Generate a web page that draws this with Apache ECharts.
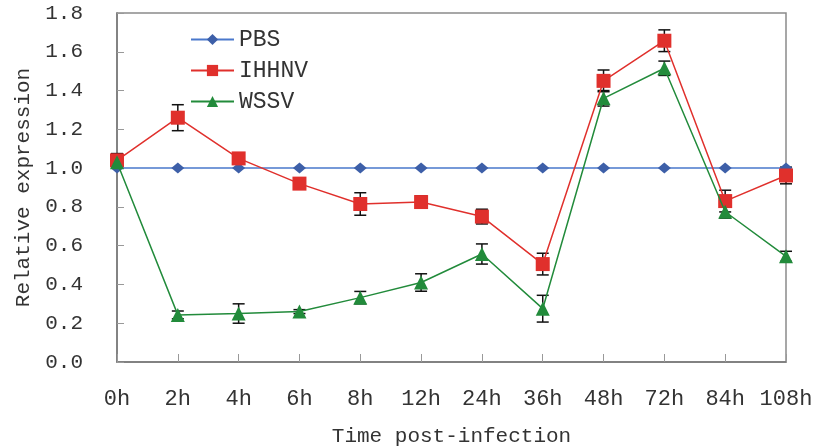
<!DOCTYPE html>
<html><head><meta charset="utf-8">
<script src="https://cdn.jsdelivr.net/npm/echarts@6/dist/echarts.min.js"></script>
<style>html,body{margin:0;padding:0;background:#fff}#c{width:817px;height:448px}</style>
</head><body><div id="c"></div>
<script>
const categories = ['0h','2h','4h','6h','8h','12h','24h','36h','48h','72h','84h','108h'];
const pbs   = [1.00,1.00,1.00,1.00,1.00,1.00,1.00,1.00,1.00,1.00,1.00,1.00];
const ihhnv = [1.04,1.26,1.05,0.92,0.815,0.825,0.75,0.505,1.45,1.657,0.83,0.962];
const ihhnvErr = [0.035,0.067,0.02,0.015,0.058,0.032,0.038,0.056,0.056,0.056,0.056,0.043];
const wssv  = [1.03,0.243,0.25,0.26,0.332,0.41,0.557,0.275,1.36,1.515,0.775,0.545];
const wssvErr = [0.03,0.02,0.05,0.01,0.032,0.045,0.052,0.069,0.04,0.037,0.033,0.026];
const yTicks = { min: 0, max: 1.8, interval: 0.2 };

const FONT = 'Liberation Mono';
const TXT = '#333';

function errData(vals, errs){ return vals.map((v,i)=>[i, v-errs[i], v+errs[i]]); }
function renderErr(params, api){
  const x = api.value(0);
  const lo = api.coord([x, api.value(1)]);
  const hi = api.coord([x, api.value(2)]);
  const w = 6;
  const st = {stroke:'#111', lineWidth:1.5};
  return {type:'group', children:[
    {type:'line', shape:{x1:lo[0],y1:lo[1],x2:hi[0],y2:hi[1]}, style:st},
    {type:'line', shape:{x1:lo[0]-w,y1:lo[1],x2:lo[0]+w,y2:lo[1]}, style:st},
    {type:'line', shape:{x1:hi[0]-w,y1:hi[1],x2:hi[0]+w,y2:hi[1]}, style:st}
  ]};
}

const chart = echarts.init(document.getElementById('c'), null, {renderer:'canvas'});
chart.setOption({
  animation:false,
  backgroundColor:'#fff',
  grid:{left:117, right:31, top:13, bottom:86, containLabel:false, outerBoundsMode:'none',
    show:true, borderColor:'#8a8a8a', borderWidth:1.5, backgroundColor:'transparent'},
  legend:{
    data:['PBS','IHHNV','WSSV'], orient:'vertical', left:185, top:23,
    itemWidth:43, itemHeight:14, itemGap:8,
    textStyle:{fontFamily:FONT, fontSize:23, color:TXT}
  },
  xAxis:{
    type:'category', data:categories, boundaryGap:false,
    axisLine:{lineStyle:{color:'#777', width:1.5}},
    axisTick:{inside:true, length:8, lineStyle:{color:'#999'}},
    axisLabel:{fontFamily:FONT, fontSize:22, color:TXT, margin:26, interval:0},
    name:'Time post-infection', nameLocation:'middle', nameGap:64,
    nameTextStyle:{fontFamily:FONT, fontSize:21, color:TXT}
  },
  yAxis:{
    type:'value', min:yTicks.min, max:yTicks.max, interval:yTicks.interval,
    axisLine:{show:true, lineStyle:{color:'#777', width:1.5}},
    axisTick:{show:true, inside:true, length:7, lineStyle:{color:'#999'}},
    splitLine:{show:false},
    axisLabel:{fontFamily:FONT, fontSize:21, color:TXT, margin:34, formatter:v=>v.toFixed(1)},
    name:'Relative expression', nameLocation:'middle', nameGap:82, nameRotate:90,
    nameTextStyle:{fontFamily:FONT, fontSize:21, color:TXT}
  },
  series:[
    {type:'custom', name:'ihhnvErr', renderItem:renderErr, data:errData(ihhnv, ihhnvErr), z:1, silent:true},
    {type:'custom', name:'wssvErr', renderItem:renderErr, data:errData(wssv, wssvErr), z:1, silent:true},
    {type:'line', name:'PBS', data:pbs, symbol:'diamond', symbolSize:[13,11],
      lineStyle:{color:'#4a78cc', width:1.5}, itemStyle:{color:'#3d5fa8'}, z:3},
    {type:'line', name:'IHHNV', data:ihhnv, symbol:'rect', symbolSize:14,
      lineStyle:{color:'#e0302c', width:1.5}, itemStyle:{color:'#e0302c'}, z:4},
    {type:'line', name:'WSSV', data:wssv, symbol:'triangle', symbolSize:14,
      lineStyle:{color:'#228b3b', width:1.5}, itemStyle:{color:'#228b3b'}, z:5}
  ]
});
</script></body></html>
